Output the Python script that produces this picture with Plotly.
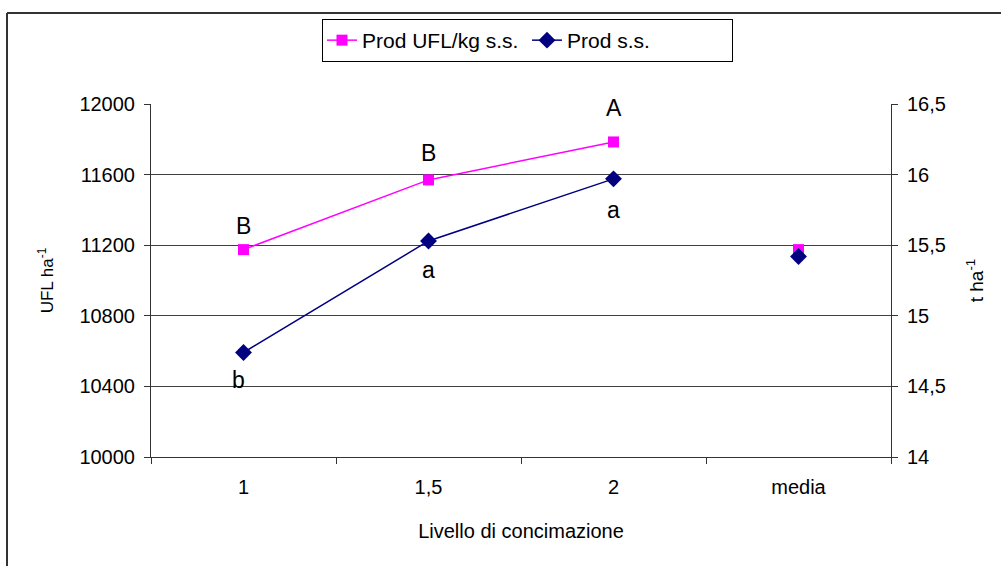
import plotly.graph_objects as go

categories = ["1", "1,5", "2", "media"]
prod_ufl = [11175, 11570, 11785, 11175]     # UFL ha-1 (left axis)
prod_ss = [14.74, 15.53, 15.97, 15.42]      # t ha-1 (right axis)
ufl_letters = ["B", "B", "A"]
ss_letters = ["b", "a", "a"]
left_ticks = [10000, 10400, 10800, 11200, 11600, 12000]
right_ticks = [14, 14.5, 15, 15.5, 16, 16.5]
right_ticktext = ["14", "14,5", "15", "15,5", "16", "16,5"]

FONT = "Liberation Sans, Arial, sans-serif"
L, R, T, B = 151, 891, 104, 457
W, H = 1001, 566

fig = go.Figure()
fig.add_trace(go.Scatter(
    x=categories[:3], y=prod_ufl[:3], name="Prod UFL/kg s.s.",
    mode="lines+markers", line=dict(color="#FF00FF", width=1.5),
    marker=dict(symbol="square", size=11, color="#FF00FF"),
    yaxis="y", legendgroup="a"))
fig.add_trace(go.Scatter(
    x=categories[3:], y=prod_ufl[3:], name="Prod UFL/kg s.s.", showlegend=False,
    mode="markers", marker=dict(symbol="square", size=11, color="#FF00FF"),
    yaxis="y", legendgroup="a"))
fig.add_trace(go.Scatter(
    x=categories[:3], y=prod_ss[:3], name="Prod s.s.",
    mode="lines+markers", line=dict(color="#000080", width=1.5),
    marker=dict(symbol="diamond", size=13, color="#000080"),
    yaxis="y2", legendgroup="b"))
fig.add_trace(go.Scatter(
    x=categories[3:], y=prod_ss[3:], name="Prod s.s.", showlegend=False,
    mode="markers", marker=dict(symbol="diamond", size=13, color="#000080"),
    yaxis="y2", legendgroup="b"))

annotations = []
ufl_shifts = [24, 27, 34]
for i, (v, t, s) in enumerate(zip(prod_ufl, ufl_letters, ufl_shifts)):
    annotations.append(dict(x=i, y=v, xref="x", yref="y", text=t, showarrow=False,
                            yshift=s, font=dict(family=FONT, size=23, color="black")))
ss_shifts = [-27, -29, -31]
ss_xshift = [-5, 0, 0]
for i, (v, t, s, xs) in enumerate(zip(prod_ss, ss_letters, ss_shifts, ss_xshift)):
    annotations.append(dict(x=i, y=v, xref="x", yref="y2", text=t, showarrow=False,
                            yshift=s, xshift=xs, font=dict(family=FONT, size=23, color="black")))

def px(xp):
    return (xp - L) / (R - L)

def py(yp):
    return (B - yp) / (B - T)

shapes = [
    dict(type="line", xref="paper", yref="paper", x0=px(7), x1=px(1010), y0=py(13), y1=py(13),
         line=dict(color="#333333", width=2)),
    dict(type="line", xref="paper", yref="paper", x0=px(7), x1=px(7), y0=py(13), y1=py(580),
         line=dict(color="#333333", width=2)),
]

fig.update_layout(
    width=W, height=H,
    margin=dict(l=L, r=W - R, t=T, b=H - B),
    paper_bgcolor="white", plot_bgcolor="white",
    font=dict(family=FONT, size=20, color="black"),
    showlegend=True,
    legend=dict(orientation="h", x=px(322), y=py(19), xanchor="left", yanchor="top",
                bordercolor="black", borderwidth=1, bgcolor="white",
                font=dict(family=FONT, size=21, color="black"),
                itemwidth=30, tracegroupgap=0, entrywidth=160, entrywidthmode="pixels"),
    xaxis=dict(type="category", categoryorder="array", categoryarray=categories,
               range=[-0.5, 3.5], tickson="boundaries", ticks="outside", ticklen=6,
               tickcolor="#333333", showline=True, linecolor="#333333", linewidth=1,
               showgrid=False, zeroline=False, ticklabelstandoff=12,
               tickfont=dict(family=FONT, size=20),
               title=dict(text="Livello di concimazione", font=dict(family=FONT, size=20),
                          standoff=26)),
    yaxis=dict(range=[10000, 12000], tickvals=left_ticks,
               ticktext=[str(v) for v in left_ticks],
               ticks="outside", ticklen=6, tickcolor="#333333",
               showline=True, linecolor="#333333", linewidth=1,
               showgrid=True, gridcolor="#404040", gridwidth=1, zeroline=False,
               ticklabelstandoff=5,
               tickfont=dict(family=FONT, size=20),
               title=dict(text="UFL ha<sup>-1</sup>", font=dict(family=FONT, size=17),
                          standoff=21)),
    yaxis2=dict(range=[14, 16.5], tickvals=right_ticks, ticktext=right_ticktext,
                overlaying="y", side="right",
                ticks="outside", ticklen=6, tickcolor="#333333",
                showline=True, linecolor="#333333", linewidth=1,
                showgrid=False, zeroline=False, ticklabelstandoff=5,
                tickfont=dict(family=FONT, size=20),
                title=dict(text="t ha<sup>-1</sup>", font=dict(family=FONT, size=19),
                           standoff=24)),
    annotations=annotations,
    shapes=shapes,
)

fig.write_html("out.html")
